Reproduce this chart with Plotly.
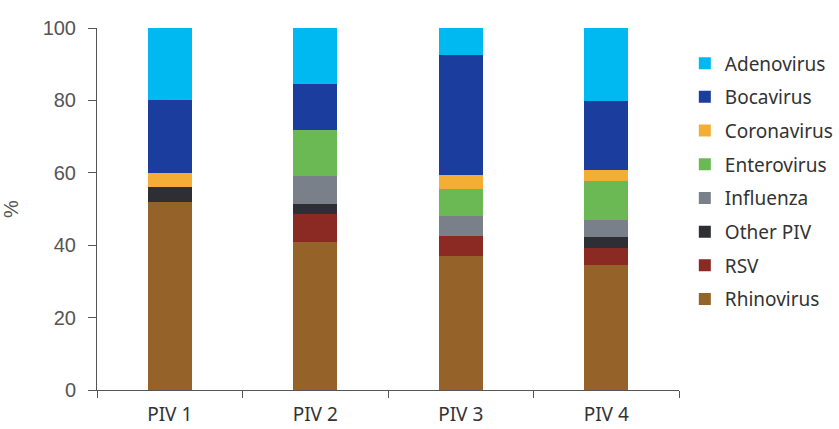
import plotly.graph_objects as go

categories = ["PIV 1", "PIV 2", "PIV 3", "PIV 4"]
series_names = ["Rhinovirus", "RSV", "Other PIV", "Influenza", "Enterovirus", "Coronavirus", "Bocavirus", "Adenovirus"]
rhinovirus = [52.0, 41.0, 37.0, 34.4]
rsv = [0.0, 7.7, 5.6, 4.7]
other_piv = [4.0, 2.6, 0.0, 3.1]
influenza = [0.0, 7.7, 5.6, 4.7]
enterovirus = [0.0, 12.8, 7.4, 10.9]
coronavirus = [4.0, 0.0, 3.7, 3.1]
bocavirus = [20.0, 12.8, 33.3, 18.8]
adenovirus = [20.0, 15.4, 7.4, 20.3]
colors = ["#95632A", "#8B2A23", "#2D2F35", "#7A8089", "#6AB955", "#F4AE35", "#1B3D9E", "#00B9F1"]

values = [rhinovirus, rsv, other_piv, influenza, enterovirus, coronavirus, bocavirus, adenovirus]

fig = go.Figure()
n = len(series_names)
for i, (name, vals, col) in enumerate(zip(series_names, values, colors)):
    fig.add_trace(go.Bar(x=categories, y=vals, name=name, marker=dict(color=col, line=dict(width=0)),
                         legendgroup=name, legendrank=1000 + (n - i)))

fig.update_layout(
    barmode="stack",
    bargap=0.7,
    width=839, height=429,
    margin=dict(l=97, r=160, t=28, b=39, autoexpand=False),
    plot_bgcolor="white", paper_bgcolor="white",
    font=dict(family="Liberation Sans, Arial", color="#444"),
    legend=dict(traceorder="grouped", x=1.01, y=0.955, xanchor="left", yanchor="top",
                font=dict(family="Noto Sans", size=19, color="#333"), tracegroupgap=6,
                itemwidth=30),
    xaxis=dict(showline=True, linecolor="#555", linewidth=1, ticks="outside", ticklen=7,
               tickcolor="#555", tickson="boundaries", tickfont=dict(family="Noto Sans", size=19, color="#333"),
               ticklabelstandoff=7, showgrid=False, automargin=False),
    yaxis=dict(range=[0, 100], dtick=20, showline=True, linecolor="#555", linewidth=1, ticks="outside",
               ticklen=8, tickcolor="#555", tickfont=dict(size=20, color="#555"), showgrid=False, zeroline=False,
               ticklabelstandoff=8, automargin=False,
               title=dict(text="%", font=dict(size=20, color="#555"), standoff=20)),
)

fig.write_html("out.html")
